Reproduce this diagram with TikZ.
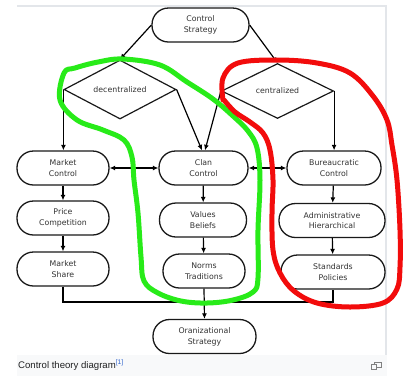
\documentclass[tikz,border=0pt]{standalone}
\usepackage{fontspec}
\setmainfont{Liberation Sans}
\newfontfamily\djfont{DejaVu Sans}
\usetikzlibrary{shapes.geometric,arrows.meta}
\definecolor{boxtxt}{HTML}{333333}
\definecolor{hlgreen}{RGB}{40,235,25}
\definecolor{hlred}{RGB}{242,12,12}
\definecolor{framegray}{HTML}{E3E6EA}
\definecolor{capbg}{HTML}{F8F9FA}
\definecolor{captxt}{HTML}{202122}
\definecolor{reflink}{HTML}{3366CC}
\tikzset{
  stadium/.style={draw=black!90, line width=1.3pt, rounded corners=16.5pt, minimum height=34pt,
    inner sep=0pt, align=center, text=boxtxt, font=\djfont\fontsize{7.8}{10.8}\selectfont},
  decision/.style={draw=black!90, line width=1.2pt, shape=diamond, inner sep=0pt,
    minimum width=112pt, minimum height=55pt, text=boxtxt, font=\djfont\fontsize{7.8}{10.8}\selectfont},
  conn/.style={line width=1.2pt, -{Latex[length=5.5pt,width=5pt]}},
  biconn/.style={line width=1.2pt, {Latex[length=5.5pt,width=5pt]}-{Latex[length=5.5pt,width=5pt]}},
  plain/.style={line width=1.2pt},
  marker/.style={line width=5pt, line cap=round, line join=round},
}
\begin{document}
\begin{tikzpicture}[x=1pt,y=-1pt]
\useasboundingbox (0,0) rectangle (407,376);
\fill[white] (0,0) rectangle (407,376);
% frame and caption area
\fill[capbg] (17,355) rectangle (387,376);
\draw[framegray, line width=1.5pt] (17,6) -- (386,6) -- (386,355);
\node[anchor=base west, inner sep=0pt, text=captxt, font=\fontsize{9.6}{11}\selectfont] (cap) at (18,368)
  {Control theory diagram\textsuperscript{\textcolor{reflink}{[1]}}};
\draw[gray, line width=0.7pt] (374,362) rectangle (381,367);
\draw[gray, line width=0.7pt, fill=capbg] (371,364.5) rectangle (376.5,369.5);

% nodes
\node[stadium, minimum width=97pt] (cs) at (200.5,25) {Control\\Strategy};
\node[decision] (dec) at (120,89.5) {decentralized};
\node[decision] (cen) at (277.5,91) {centralized};

\node[stadium, minimum width=92pt] (mc) at (63,168) {Market\\Control};
\node[stadium, minimum width=89pt] (cc) at (203.5,168) {Clan\\Control};
\node[stadium, minimum width=94pt] (bc) at (334,168) {Bureaucratic\\Control};

\node[stadium, minimum width=92pt] (pc) at (63,218) {Price\\Competition};
\node[stadium, minimum width=87pt] (vb) at (203,220) {Values\\Beliefs};
\node[stadium, minimum width=106pt] (ah) at (332,220.5) {Administrative\\Hierarchical};

\node[stadium, minimum width=92pt] (ms) at (63,269) {Market\\Share};
\node[stadium, minimum width=82pt] (nt) at (204,271) {Norms\\Traditions};
\node[stadium, minimum width=104pt] (sp) at (333,272) {Standards\\Policies};

\node[stadium, minimum width=103pt] (os) at (204.5,336.5) {Oranizational\\Strategy};

\coordinate (jl) at (63,302);
\coordinate (jr) at (333,302);

% connectors
\draw[conn] (cs.west) -- (dec.north);
\draw[conn] (cs.east) -- (cen.north);
\draw[conn] (dec.west) -- (dec.west |- mc.north);
\draw[conn] (dec.east) -- ([xshift=-1.5pt]cc.north);
\draw[conn] (cen.west) -- ([xshift=1.5pt]cc.north);
\draw[conn] (cen.east) -- (cen.east |- bc.north);
\draw[biconn] (mc.east) -- (cc.west);
\draw[biconn] (cc.east) -- (bc.west);
\draw[conn] (mc) -- (pc);
\draw[conn] (pc) -- (ms);
\draw[conn] (cc) -- (vb);
\draw[conn] (vb) -- (nt);
\draw[conn] (bc) -- (ah);
\draw[conn] (ah) -- (sp);
\draw[plain] (ms.south) -- (jl) -- (jr) -- (sp.south);
\draw[conn] (nt.south) -- (os.north);

% hand-drawn highlights
\draw[marker, hlgreen] plot[smooth cycle, tension=0.6] coordinates {
 (64,73) (60,100) (77,120) (103,130) (124,140) (132,157) (134,180) (138,213)
 (141,257) (144,281) (158,293) (181,301) (207,303) (233,300) (253,292)
 (258,278) (258,230) (260,180) (257,148) (248,131) (233,116) (213,99)
 (187,82) (160,65) (123,59) (98,62) (75,68)};
\draw[marker, hlred] plot[smooth, tension=0.6] coordinates {
 (223,100) (223,78) (238,63) (277,60) (317,63) (350,73) (373,96) (387,120)
 (392,145) (397,180) (400,230) (400,267) (397,289) (383,303) (350,307)
 (317,303) (294,291) (280,273) (273,250) (272,213) (273,180) (270,150)
 (263,133) (250,122) (235,112) (224,100)};
\end{tikzpicture}
\end{document}
